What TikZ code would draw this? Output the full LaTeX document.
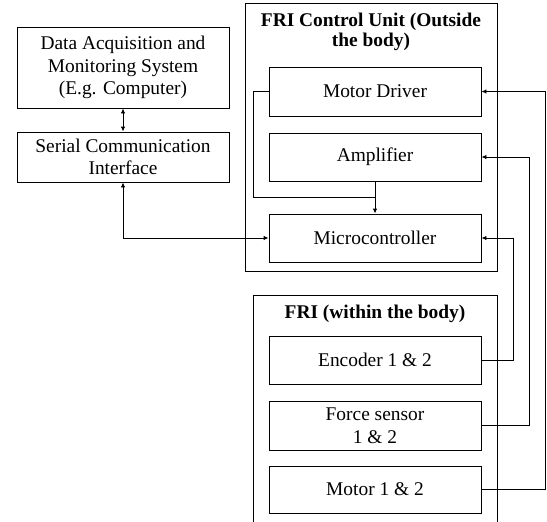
\documentclass[tikz,border=0pt]{standalone}
\usepackage{fontspec}
\setmainfont{Liberation Serif}
\usetikzlibrary{arrows.meta}
\tikzset{
  blk/.style={draw, line width=0.9pt, minimum width=212pt, inner sep=0pt, align=center,
    font=\fontsize{19.4}{22.5}\selectfont},
  grp/.style={draw, line width=0.9pt},
  ttl/.style={align=center, inner sep=0pt, font=\fontsize{19.4}{20}\selectfont\bfseries},
  wire/.style={line width=0.9pt},
  arr/.style={wire, -{Latex[length=5pt,width=4.5pt]}},
  barr/.style={wire, {Latex[length=5pt,width=4.5pt]}-{Latex[length=5pt,width=4.5pt]}}
}
\begin{document}
\begin{tikzpicture}[x=1pt,y=-1pt]
\useasboundingbox (0,0) rectangle (547,522);
\begin{scope}
\clip (0,0) rectangle (547,522);

% outer group frames
\draw[grp] (245,3) rectangle (497,271);
\draw[grp] (253,530) -- (253,295) -- (497,295) -- (497,530);
\node[ttl] (cu) at (371,32) {FRI Control Unit (Outside\\the body)};
\node[ttl] (fb) at (375,314) {FRI (within the body)};

% left column
\node[blk, minimum height=81pt] (daq) at (123,67.5) {Data Acquisition and\\Monitoring System\\(E.g. Computer)};
\node[blk, minimum height=50pt] (sci) at (123,157) {Serial Communication\\Interface};

% control unit blocks
\node[blk, minimum height=49pt] (md) at (375,91.5) {Motor Driver};
\node[blk, minimum height=48pt] (amp) at (375,157) {Amplifier};
\node[blk, minimum height=48pt] (mcu) at (375,238) {Microcontroller};

% in-body blocks
\node[blk, minimum height=48pt] (enc) at (375,360) {Encoder 1 \& 2};
\node[blk, minimum height=49pt] (fs) at (375,425.5) {Force sensor\\1 \& 2};
\node[blk, minimum height=47pt] (mot) at (375,489.5) {Motor 1 \& 2};

\coordinate (j) at (375,197);

% connectors
\draw[barr] (daq.south) -- (sci.north);
\draw[barr] (sci.south) |- (mcu.west);
\draw[wire] (md.west) -- (253,91.5) |- (j);
\draw[arr] (amp.south) -- (mcu.north);
\draw[arr] (enc.east) -- (513,360) |- (mcu.east);
\draw[arr] (fs.east) -- (529,425.5) |- (amp.east);
\draw[arr] (mot.east) -- (545,489.5) |- (md.east);
\end{scope}
\end{tikzpicture}
\end{document}
